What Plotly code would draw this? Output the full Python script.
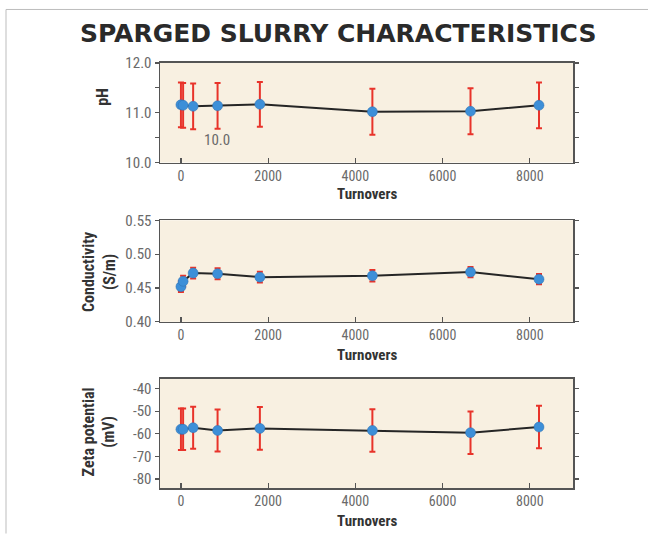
import plotly.graph_objects as go

W, H = 648, 543

# ---- data ----
turnovers = [0, 50, 280, 840, 1810, 4390, 6640, 8210]

ph = [11.16, 11.15, 11.13, 11.14, 11.17, 11.02, 11.03, 11.15]
ph_err = [0.45, 0.45, 0.46, 0.46, 0.45, 0.46, 0.46, 0.46]

cond = [0.452, 0.460, 0.472, 0.471, 0.466, 0.468, 0.4735, 0.463]
cond_err = [0.008, 0.008, 0.008, 0.008, 0.008, 0.0085, 0.0075, 0.0075]

zeta = [-58.0, -58.0, -57.3, -58.5, -57.6, -58.5, -59.5, -57.0]
zeta_err = [9.2, 9.2, 9.3, 9.3, 9.4, 9.4, 9.4, 9.4]

x_ticks = [0, 2000, 4000, 6000, 8000]
ph_ticks = [10.0, 10.5, 11.0, 11.5, 12.0]
ph_ticktext = ["10.0", "", "11.0", "", "12.0"]
cond_ticks = [0.40, 0.45, 0.50, 0.55]
cond_ticktext = ["0.40", "0.45", "0.50", "0.55"]
zeta_ticks = [-80, -70, -60, -50, -40]
zeta_ticktext = ["-80", "-70", "-60", "-50", "-40"]

title = "SPARGED SLURRY CHARACTERISTICS"
x_title = "Turnovers"

# ---- layout helpers (pixel positions -> paper fractions) ----
Y_OFF, Y_SCALE = 7.8, 0.971   # compensation for the page's vertical placement


def px_x(p):
    return p / W


def px_y(p):
    q = (p - Y_OFF) / Y_SCALE
    q = min(max(q, 0.5), H - 0.5)
    return 1 - q / H


BG = "#f8f0e1"
AXC = "#555555"
TICKC = "#6a6a6a"
RED = "#e8332a"
BLUE = "#3d8fd8"
LINE = "#262626"
NARROW = "Liberation Sans Narrow, Arial Narrow, Roboto Condensed, sans-serif"

fig = go.Figure()

panels = [
    (ph, ph_err, "x", "y"),
    (cond, cond_err, "x2", "y2"),
    (zeta, zeta_err, "x3", "y3"),
]
for vals, errs, xa, ya in panels:
    fig.add_trace(go.Scatter(
        x=turnovers, y=vals, xaxis=xa, yaxis=ya, mode="lines+markers",
        line=dict(color=LINE, width=2),
        marker=dict(color=BLUE, size=10, line=dict(color="#2f6fae", width=0.5)),
        error_y=dict(type="data", array=errs, visible=True, color=RED,
                     thickness=2, width=3),
        showlegend=False, hoverinfo="skip",
    ))

x_dom = [px_x(160), px_x(573)]
y_doms = [
    [px_y(162), px_y(62)],
    [px_y(322), px_y(220)],
    [px_y(489), px_y(379)],
]


def xaxis_cfg(anchor):
    return dict(
        domain=x_dom, anchor=anchor, range=[-480, 8990],
        tickmode="array", tickvals=x_ticks,
        ticks="inside", ticklen=5, tickcolor=AXC, tickwidth=1.2,
        showline=True, linecolor=AXC, linewidth=1.5, mirror=True,
        showgrid=False, zeroline=False,
        tickfont=dict(family=NARROW, size=14, color=TICKC),
        fixedrange=True,
    )


def yaxis_cfg(anchor, dom, rng, tv, tt):
    return dict(
        domain=dom, anchor=anchor, range=rng,
        tickmode="array", tickvals=tv, ticktext=tt,
        ticks="outside", ticklen=4, tickcolor=AXC, tickwidth=1.2,
        showline=True, linecolor=AXC, linewidth=1.5, mirror="ticks",
        showgrid=False, zeroline=False,
        tickfont=dict(family=NARROW, size=15, color=TICKC),
        fixedrange=True,
    )


fig.update_layout(
    width=W, height=H,
    margin=dict(l=0, r=0, t=0, b=0),
    paper_bgcolor="white",
    plot_bgcolor=BG,
    xaxis=xaxis_cfg("y"),
    xaxis2=xaxis_cfg("y2"),
    xaxis3=xaxis_cfg("y3"),
    yaxis=yaxis_cfg("x", y_doms[0], [10.0, 12.0], ph_ticks, ph_ticktext),
    yaxis2=yaxis_cfg("x2", y_doms[1], [0.40, 0.55], cond_ticks, cond_ticktext),
    yaxis3=yaxis_cfg("x3", y_doms[2], [-84, -35.6], zeta_ticks, zeta_ticktext),
)

ann = []
ann.append(dict(text="<b>%s</b>" % title, x=px_x(338), y=px_y(32),
                xref="paper", yref="paper", showarrow=False,
                font=dict(family="DejaVu Sans, sans-serif", size=25, color="#2a2a2a"),
                xanchor="center", yanchor="middle"))
for yy in [194, 355, 522]:
    ann.append(dict(text="<b>%s</b>" % x_title, x=px_x(367), y=px_y(yy),
                    xref="paper", yref="paper", showarrow=False,
                    font=dict(family=NARROW, size=15, color="#333333"),
                    xanchor="center", yanchor="middle"))
ann.append(dict(text="<b>pH</b>", x=px_x(103), y=px_y(96), xref="paper", yref="paper",
                showarrow=False, textangle=-90,
                font=dict(family=NARROW, size=16, color="#333333"),
                xanchor="center", yanchor="middle"))
ann.append(dict(text="<b>Conductivity<br>(S/m)</b>", x=px_x(99), y=px_y(272),
                xref="paper", yref="paper", showarrow=False, textangle=-90,
                font=dict(family=NARROW, size=16, color="#333333"),
                xanchor="center", yanchor="middle"))
ann.append(dict(text="<b>Zeta potential<br>(mV)</b>", x=px_x(99), y=px_y(433),
                xref="paper", yref="paper", showarrow=False, textangle=-90,
                font=dict(family=NARROW, size=16, color="#333333"),
                xanchor="center", yanchor="middle"))
ann.append(dict(text="10.0", x=830, y=10.46, xref="x", yref="y", showarrow=False,
                font=dict(family=NARROW, size=15, color=TICKC),
                xanchor="center", yanchor="middle"))
fig.update_layout(annotations=ann)

frame = dict(color="#bdbdbd", width=1)
fig.update_layout(shapes=[
    dict(type="line", xref="paper", yref="paper", x0=px_x(6), x1=px_x(6),
         y0=px_y(7), y1=px_y(541), line=frame),
    dict(type="line", xref="paper", yref="paper", x0=px_x(6), x1=1,
         y0=px_y(7), y1=px_y(7), line=frame),
])

fig.write_html(
    "out.html",
    config={"displayModeBar": False, "staticPlot": True},
    post_script=("document.documentElement.style.margin='0';"
                 "document.body.style.margin='0';"
                 "document.body.style.overflow='hidden';"),
)
